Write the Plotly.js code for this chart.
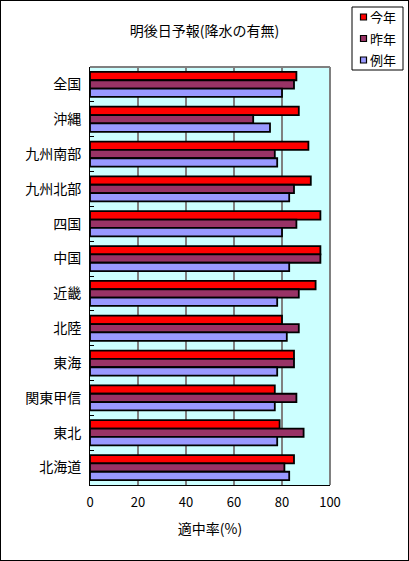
<!DOCTYPE html>
<html><head><meta charset="utf-8">
<script src="https://cdn.plot.ly/plotly-3.0.1.min.js"></script>
<style>
html,body{margin:0;padding:0;background:#fff;}
#chart{width:407px;height:559px;border:1px solid #000;}
</style></head>
<body><div id="chart"></div>
<script>
const regions = ["全国","沖縄","九州南部","九州北部","四国","中国","近畿","北陸","東海","関東甲信","東北","北海道"];
const thisYear = [86,87,91,92,96,96,94,80,85,77,79,85];
const lastYear = [85,68,77,85,86,96,87,87,85,86,89,81];
const normalYear = [80,75,78,83,80,83,78,82,78,77,78,83];
const seriesNames = ["今年","昨年","例年"];
const seriesColors = ["#FF0000","#993366","#9999FF"];
const xTicks = [0,20,40,60,80,100];

const font = "Noto Sans CJK JP, sans-serif";
const W = 407, H = 559;
const M = {l:89, r:78, t:66, b:75};
const PW = W - M.l - M.r, PH = H - M.t - M.b;
// convert chart pixel coords to paper coords
const px = X => (X - M.l) / PW;
const py = Y => (H - M.b - Y) / PH;

const values = [thisYear,lastYear,normalYear];
const traces = values.map((v,i)=>({
  type:"bar", orientation:"h", y:regions, x:v, name:seriesNames[i],
  marker:{color:seriesColors[i], line:{color:"#000", width:1.8}}, showlegend:false
}));

// custom legend (box, swatches, labels)
const legBox = {x0:351, x1:402, y0:6, y1:69};
const shapes = [
  {type:"line", xref:"paper", yref:"paper", x0:0, x1:1, y0:1, y1:1, line:{color:"#808080", width:2}},
  {type:"line", xref:"paper", yref:"paper", x0:1, x1:1, y0:0, y1:1, line:{color:"#808080", width:2}},
  {type:"rect", xref:"paper", yref:"paper", x0:px(legBox.x0), x1:px(legBox.x1), y0:py(legBox.y1), y1:py(legBox.y0),
   line:{color:"#000", width:1}, fillcolor:"#fff"}
];
const annotations = [];
seriesNames.forEach((n,i)=>{
  const cy = 16 + i*21.5;
  shapes.push({type:"rect", xref:"paper", yref:"paper", x0:px(359.5), x1:px(365.5), y0:py(cy+3), y1:py(cy-3),
    line:{color:"#000", width:1.2}, fillcolor:seriesColors[i]});
  annotations.push({xref:"paper", yref:"paper", x:px(367), y:py(cy), xanchor:"left", yanchor:"middle",
    text:n, showarrow:false, font:{size:13, family:font, color:"#000"}});
});

const layout = {
  width:W, height:H,
  margin:M,
  paper_bgcolor:"#fff", plot_bgcolor:"#CCFFFF",
  font:{family:font, size:14, color:"#000"},
  title:{text:"明後日予報(降水の有無)", x:0.5, xref:"container", xanchor:"center",
         y:0.946, yref:"container", yanchor:"middle", font:{size:14, family:font}},
  barmode:"group", bargap:0.28, bargroupgap:0,
  xaxis:{range:[0,100], tickvals:xTicks, showgrid:true, gridcolor:"#808080", gridwidth:2,
         zeroline:false, showline:true, linecolor:"#000", linewidth:1,
         ticks:"", tickfont:{size:13, family:font}, ticklabelstandoff:5,
         title:{text:"適中率(%)", standoff:14, font:{size:14, family:font}}},
  yaxis:{autorange:"reversed", showgrid:false, zeroline:false, showline:true, linecolor:"#000", linewidth:1,
         ticks:"inside", tickson:"boundaries", ticklen:4, tickcolor:"#000",
         tickfont:{size:14, family:font}, ticklabelstandoff:5},
  shapes:shapes,
  annotations:annotations,
  showlegend:false
};
Plotly.newPlot("chart", traces, layout, {displayModeBar:false, staticPlot:true});
</script></body></html>
